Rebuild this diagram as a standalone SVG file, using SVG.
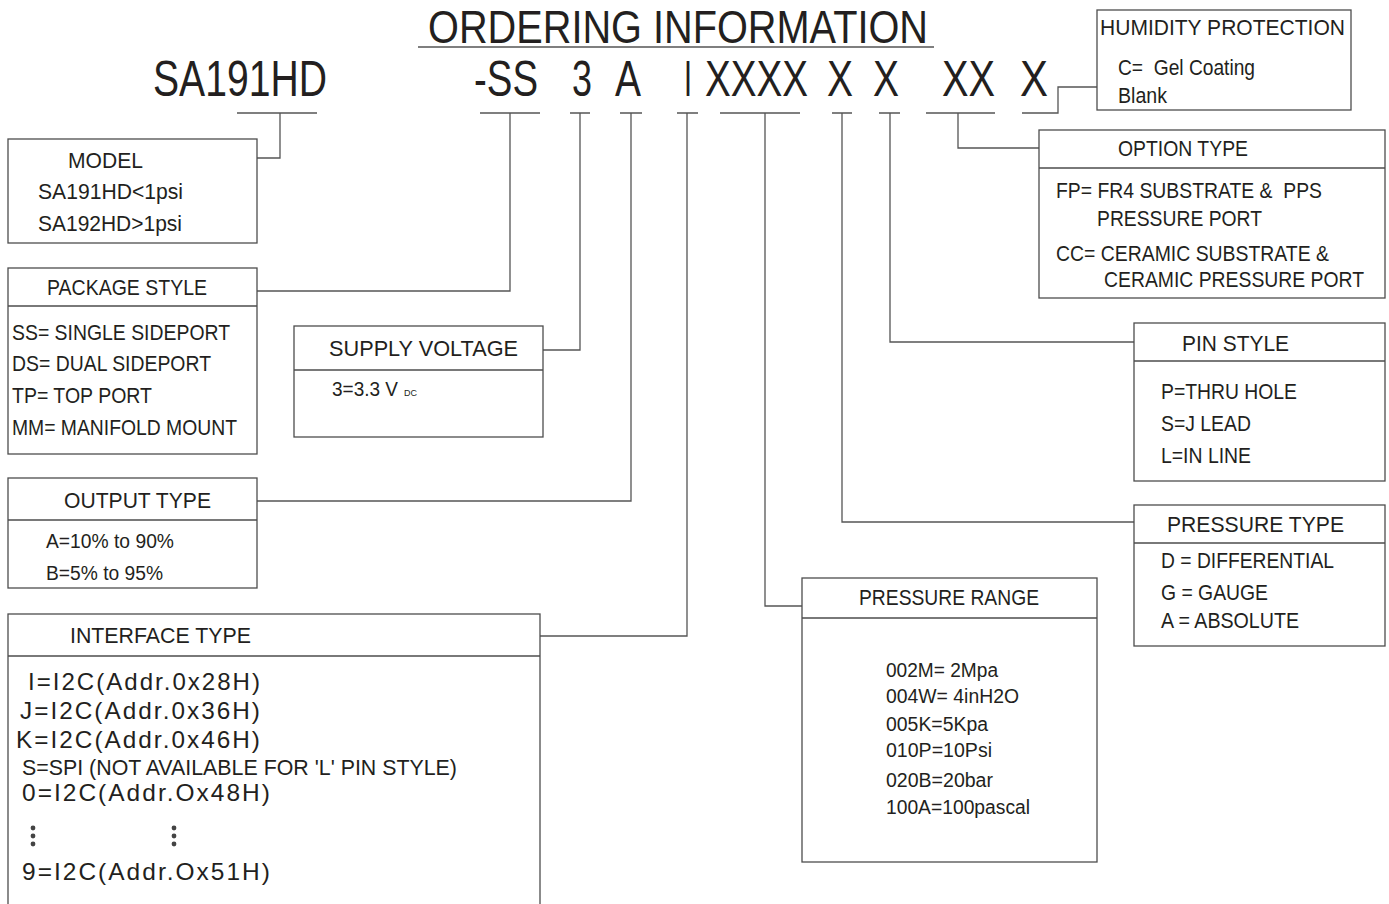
<svg xmlns="http://www.w3.org/2000/svg" width="1389" height="904" viewBox="0 0 1389 904">
<style>
text{font-family:"Liberation Sans",Arial,sans-serif;fill:#231f20;font-size:22px}
.box{fill:#fff;stroke:#4d4d4d;stroke-width:1.3}
.div{stroke:#4d4d4d;stroke-width:1.3}
.ln{fill:none;stroke:#555;stroke-width:1.3}
.big{font-size:50px}
.ttl{font-size:46px}
.sp{font-size:24px;letter-spacing:2px}
.s20{font-size:20px}
.sub{font-size:9px}
</style>
<rect width="1389" height="904" fill="#fff"/>
<g id="title">
<text x="428" y="43" class="ttl" textLength="500" lengthAdjust="spacingAndGlyphs">ORDERING INFORMATION</text>
<line x1="418" y1="47" x2="934" y2="47" class="ln"/>
</g>
<g id="code">
<text x="153" y="96" class="big" textLength="174" lengthAdjust="spacingAndGlyphs">SA191HD</text>
<text x="474" y="96" class="big" textLength="64" lengthAdjust="spacingAndGlyphs">-SS</text>
<text x="572" y="96" class="big" textLength="20" lengthAdjust="spacingAndGlyphs">3</text>
<text x="615" y="96" class="big" textLength="26" lengthAdjust="spacingAndGlyphs">A</text>
<text x="684" y="96" class="big" textLength="8" lengthAdjust="spacingAndGlyphs">I</text>
<text x="705" y="96" class="big" textLength="103" lengthAdjust="spacingAndGlyphs">XXXX</text>
<text x="827" y="96" class="big" textLength="26" lengthAdjust="spacingAndGlyphs">X</text>
<text x="873" y="96" class="big" textLength="26" lengthAdjust="spacingAndGlyphs">X</text>
<text x="942" y="96" class="big" textLength="53" lengthAdjust="spacingAndGlyphs">XX</text>
<text x="1020" y="96" class="big" textLength="28" lengthAdjust="spacingAndGlyphs">X</text>
</g>
<g id="connectors">
<path class="ln" d="M237 113H317M280 113V158H257"/>
<path class="ln" d="M480 113H540M510 113V291H257"/>
<path class="ln" d="M570 113H590M580 113V350H543"/>
<path class="ln" d="M620 113H642M631 113V501H257"/>
<path class="ln" d="M677 113H698M687 113V636H540"/>
<path class="ln" d="M720 113H800M765 113V606H802"/>
<path class="ln" d="M832 113H852M842 113V522H1134"/>
<path class="ln" d="M879 113H900M890 113V342H1134"/>
<path class="ln" d="M926 113H995M958 113V148H1039"/>
<path class="ln" d="M1022 113H1058V87H1097"/>
</g>
<g id="humidity">
<rect x="1097" y="10" width="254" height="100" class="box"/>
<text x="1100" y="35" textLength="245" lengthAdjust="spacingAndGlyphs">HUMIDITY PROTECTION</text>
<text x="1118" y="75" xml:space="preserve" textLength="137" lengthAdjust="spacingAndGlyphs">C=  Gel Coating</text>
<text x="1118" y="103" textLength="49" lengthAdjust="spacingAndGlyphs">Blank</text>
</g>
<g id="model">
<rect x="8" y="139" width="249" height="104" class="box"/>
<text x="68" y="168" textLength="75" lengthAdjust="spacingAndGlyphs">MODEL</text>
<text x="38" y="199" textLength="145" lengthAdjust="spacingAndGlyphs">SA191HD&lt;1psi</text>
<text x="38" y="231" textLength="144" lengthAdjust="spacingAndGlyphs">SA192HD&gt;1psi</text>
</g>
<g id="package">
<rect x="8" y="268" width="249" height="186" class="box"/>
<line x1="8" y1="306" x2="257" y2="306" class="div"/>
<text x="47" y="295" textLength="160" lengthAdjust="spacingAndGlyphs">PACKAGE STYLE</text>
<text x="12" y="340" textLength="218" lengthAdjust="spacingAndGlyphs">SS= SINGLE SIDEPORT</text>
<text x="12" y="371" textLength="199" lengthAdjust="spacingAndGlyphs">DS= DUAL SIDEPORT</text>
<text x="12" y="403" textLength="140" lengthAdjust="spacingAndGlyphs">TP= TOP PORT</text>
<text x="12" y="435" textLength="225" lengthAdjust="spacingAndGlyphs">MM= MANIFOLD MOUNT</text>
</g>
<g id="supply">
<rect x="294" y="326" width="249" height="111" class="box"/>
<line x1="294" y1="370" x2="543" y2="370" class="div"/>
<text x="329" y="356" textLength="189" lengthAdjust="spacingAndGlyphs">SUPPLY VOLTAGE</text>
<text x="332" y="396" class="s20" textLength="66" lengthAdjust="spacingAndGlyphs">3=3.3 V</text>
<text x="404" y="396" class="sub">DC</text>
</g>
<g id="output">
<rect x="8" y="478" width="249" height="110" class="box"/>
<line x1="8" y1="520" x2="257" y2="520" class="div"/>
<text x="64" y="508" textLength="147" lengthAdjust="spacingAndGlyphs">OUTPUT TYPE</text>
<text x="46" y="548" class="s20" textLength="128" lengthAdjust="spacingAndGlyphs">A=10% to 90%</text>
<text x="46" y="580" class="s20" textLength="117" lengthAdjust="spacingAndGlyphs">B=5% to 95%</text>
</g>
<g id="interface">
<rect x="8" y="614" width="532" height="300" class="box"/>
<line x1="8" y1="656" x2="540" y2="656" class="div"/>
<text x="70" y="643" textLength="181" lengthAdjust="spacingAndGlyphs">INTERFACE TYPE</text>
<text x="28" y="690" class="sp" textLength="234" lengthAdjust="spacingAndGlyphs">I=I2C(Addr.0x28H)</text>
<text x="20" y="719" class="sp" textLength="242" lengthAdjust="spacingAndGlyphs">J=I2C(Addr.0x36H)</text>
<text x="16" y="748" class="sp" textLength="246" lengthAdjust="spacingAndGlyphs">K=I2C(Addr.0x46H)</text>
<text x="22" y="775" textLength="435" lengthAdjust="spacingAndGlyphs">S=SPI (NOT AVAILABLE FOR 'L' PIN STYLE)</text>
<text x="22" y="801" class="sp" textLength="250" lengthAdjust="spacingAndGlyphs">0=I2C(Addr.Ox48H)</text>
<g fill="#444">
<circle cx="33" cy="828" r="2.4"/><circle cx="33" cy="836" r="2.4"/><circle cx="33" cy="844" r="2.4"/>
<circle cx="174" cy="828" r="2.4"/><circle cx="174" cy="836" r="2.4"/><circle cx="174" cy="844" r="2.4"/>
</g>
<text x="22" y="880" class="sp" textLength="250" lengthAdjust="spacingAndGlyphs">9=I2C(Addr.Ox51H)</text>
</g>
<g id="range">
<rect x="802" y="578" width="295" height="284" class="box"/>
<line x1="802" y1="618" x2="1097" y2="618" class="div"/>
<text x="859" y="605" textLength="180" lengthAdjust="spacingAndGlyphs">PRESSURE RANGE</text>
<text x="886" y="677" class="s20" textLength="112" lengthAdjust="spacingAndGlyphs">002M= 2Mpa</text>
<text x="886" y="703" class="s20" textLength="133" lengthAdjust="spacingAndGlyphs">004W= 4inH2O</text>
<text x="886" y="731" class="s20" textLength="102" lengthAdjust="spacingAndGlyphs">005K=5Kpa</text>
<text x="886" y="757" class="s20" textLength="106" lengthAdjust="spacingAndGlyphs">010P=10Psi</text>
<text x="886" y="787" class="s20" textLength="107" lengthAdjust="spacingAndGlyphs">020B=20bar</text>
<text x="886" y="814" class="s20" textLength="144" lengthAdjust="spacingAndGlyphs">100A=100pascal</text>
</g>
<g id="ptype">
<rect x="1134" y="505" width="251" height="141" class="box"/>
<line x1="1134" y1="543" x2="1385" y2="543" class="div"/>
<text x="1167" y="532" textLength="177" lengthAdjust="spacingAndGlyphs">PRESSURE TYPE</text>
<text x="1161" y="568" textLength="173" lengthAdjust="spacingAndGlyphs">D = DIFFERENTIAL</text>
<text x="1161" y="600" textLength="107" lengthAdjust="spacingAndGlyphs">G = GAUGE</text>
<text x="1161" y="628" textLength="138" lengthAdjust="spacingAndGlyphs">A = ABSOLUTE</text>
</g>
<g id="pin">
<rect x="1134" y="323" width="251" height="158" class="box"/>
<line x1="1134" y1="361" x2="1385" y2="361" class="div"/>
<text x="1182" y="351" textLength="107" lengthAdjust="spacingAndGlyphs">PIN STYLE</text>
<text x="1161" y="399" textLength="136" lengthAdjust="spacingAndGlyphs">P=THRU HOLE</text>
<text x="1161" y="431" textLength="90" lengthAdjust="spacingAndGlyphs">S=J LEAD</text>
<text x="1161" y="463" textLength="90" lengthAdjust="spacingAndGlyphs">L=IN LINE</text>
</g>
<g id="option">
<rect x="1039" y="130" width="346" height="168" class="box"/>
<line x1="1039" y1="168" x2="1385" y2="168" class="div"/>
<text x="1118" y="156" textLength="130" lengthAdjust="spacingAndGlyphs">OPTION TYPE</text>
<text x="1056" y="198" xml:space="preserve" textLength="266" lengthAdjust="spacingAndGlyphs">FP= FR4 SUBSTRATE &amp;  PPS</text>
<text x="1097" y="226" textLength="165" lengthAdjust="spacingAndGlyphs">PRESSURE PORT</text>
<text x="1056" y="261" textLength="273" lengthAdjust="spacingAndGlyphs">CC= CERAMIC SUBSTRATE &amp;</text>
<text x="1104" y="287" textLength="260" lengthAdjust="spacingAndGlyphs">CERAMIC PRESSURE PORT</text>
</g>
</svg>
